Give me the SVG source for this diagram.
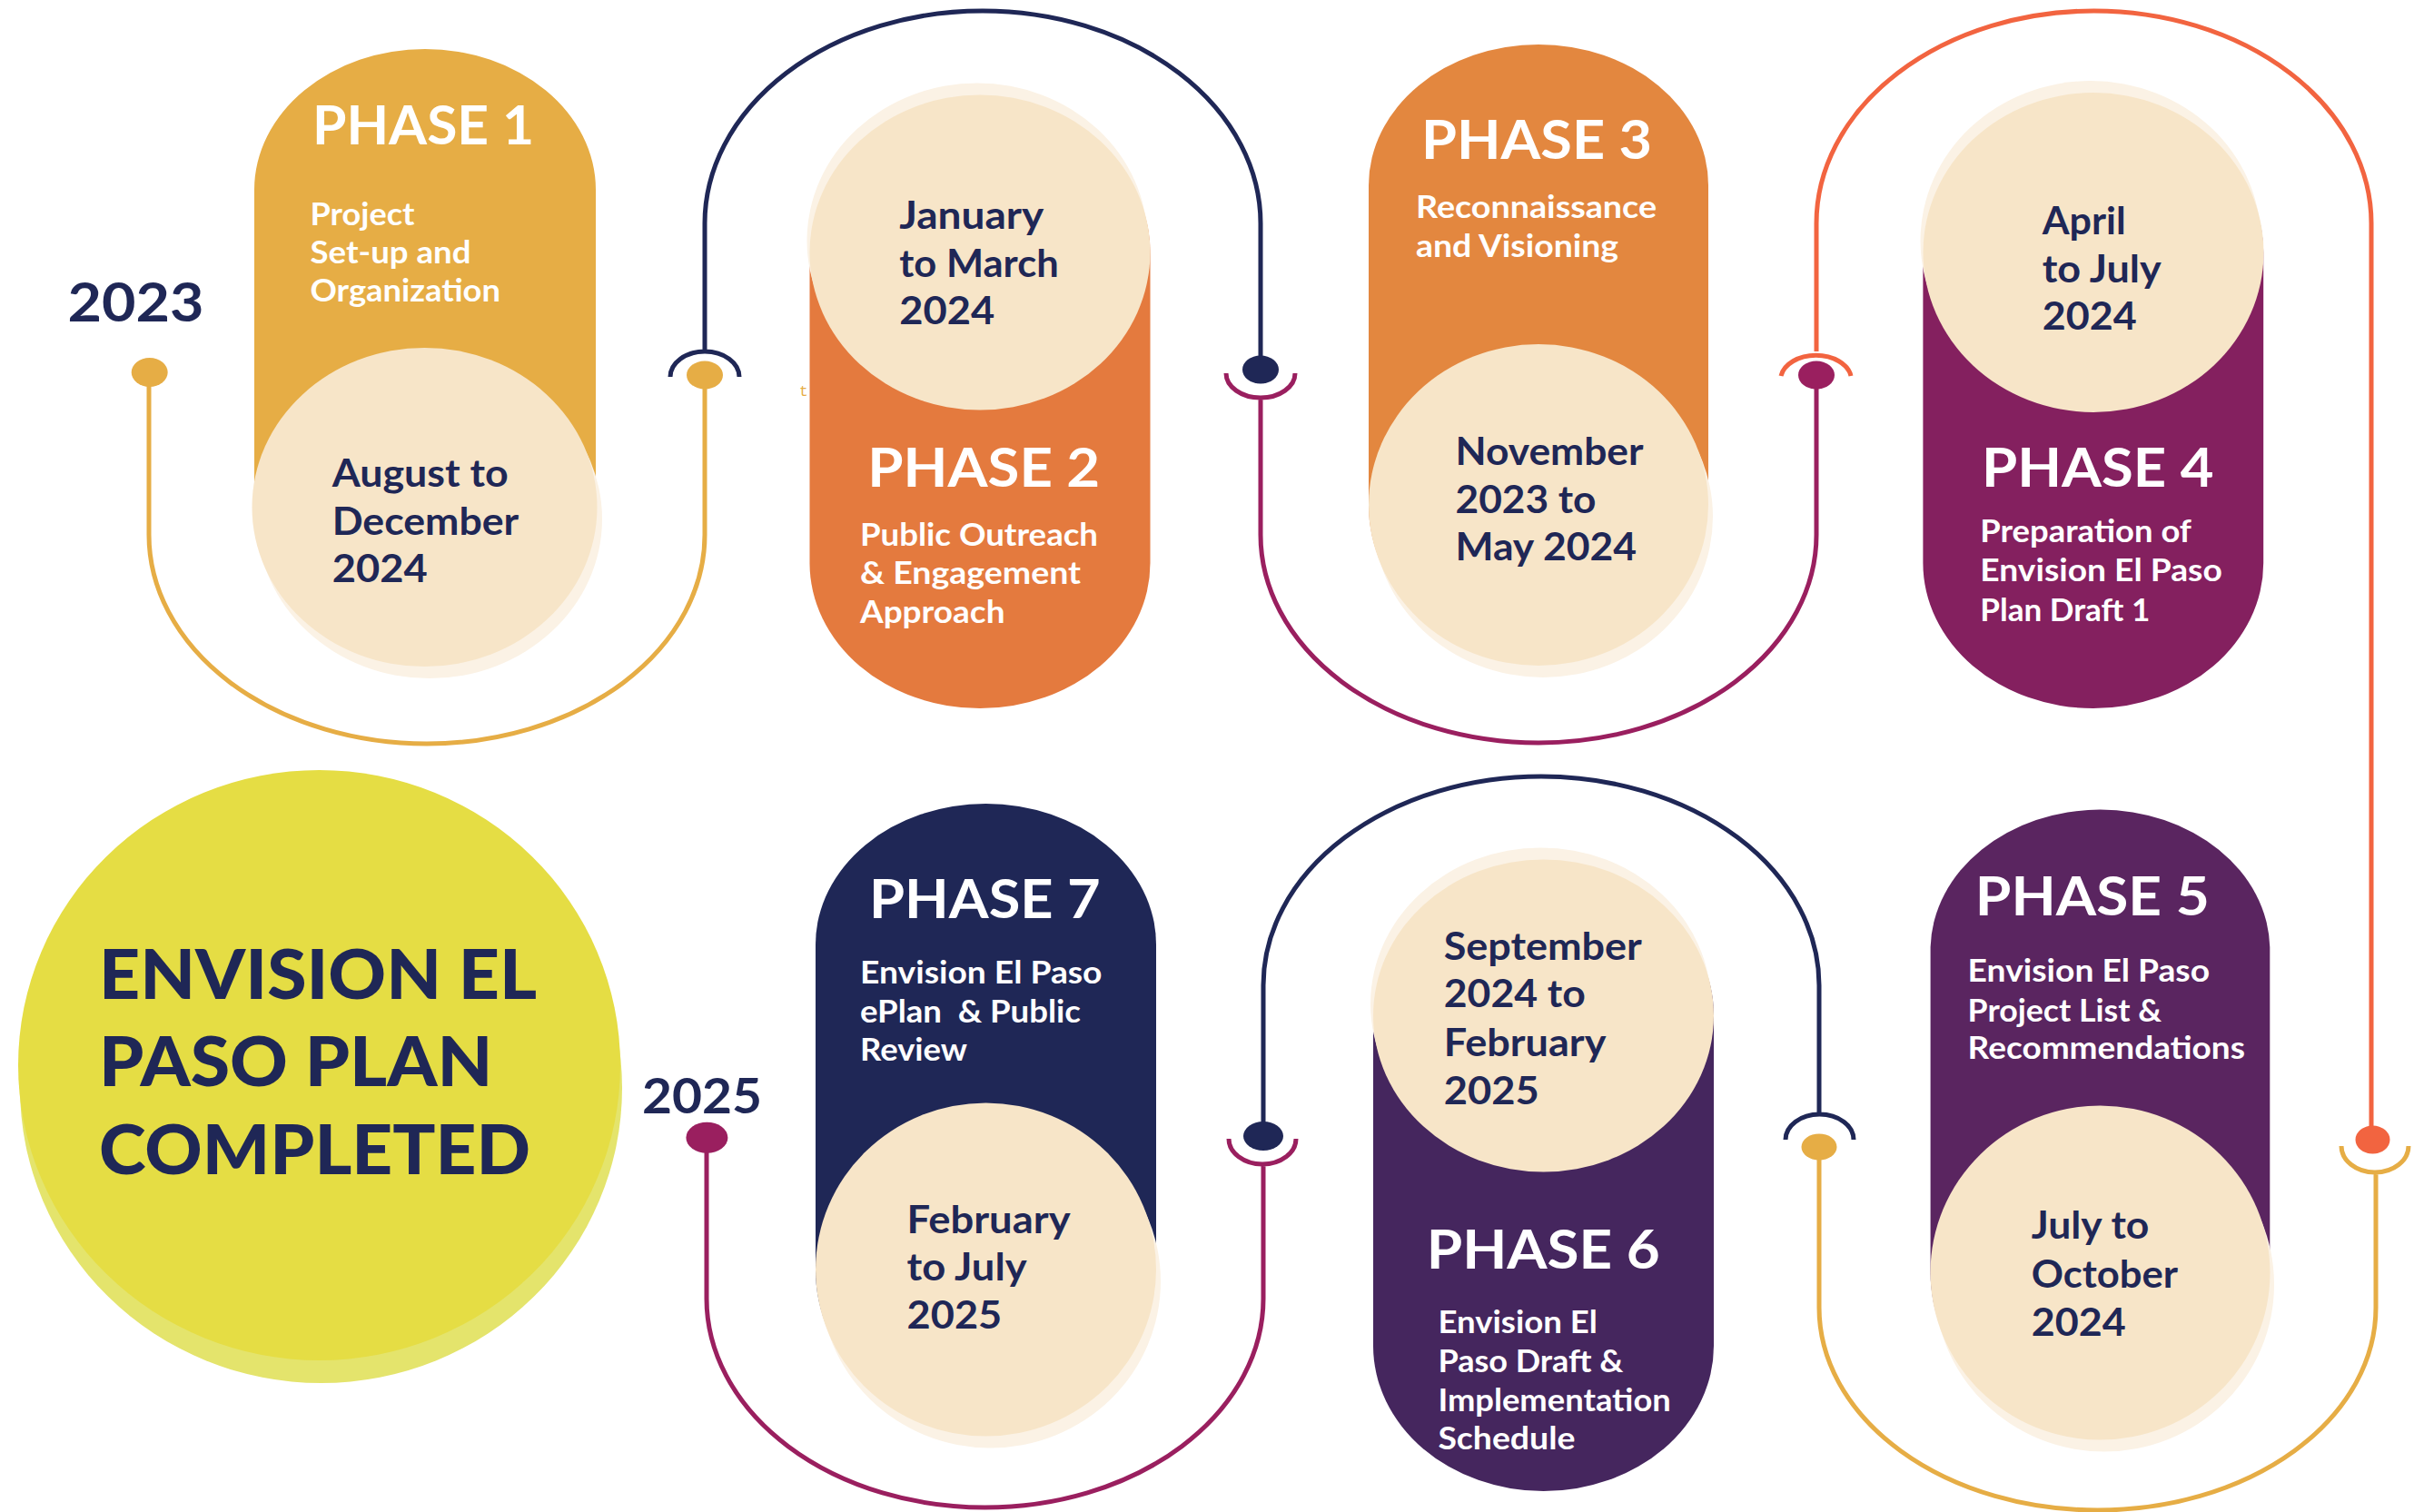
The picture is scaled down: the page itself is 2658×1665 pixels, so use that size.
<svg xmlns="http://www.w3.org/2000/svg" width="2658" height="1665" viewBox="0 0 2658 1665">
<style>
text{font-family:Lato,'Liberation Sans',sans-serif;font-weight:700}
.ph{font-size:60px;fill:#fff}
.ds{font-size:35px;fill:#fff}
.dt{font-size:42px;fill:#1F2756}
.yr{fill:#1F2756}
.big{font-size:77px;font-weight:900;fill:#1F2756}
.c{fill:none;stroke-width:5}
.date{fill:#F7E5C8}
.sh{fill:#FBF2E5}
</style>
<rect width="2658" height="1665" fill="#fff"/>
<g id="connectors">
  <!-- top row -->
  <path class="c" stroke="#E6AD45" d="M164 410 V589 A306 230 0 0 0 776 589 V413"/>
  <path class="c" stroke="#1F2756" d="M738 415 A38 28 0 0 1 814 415 M776 387 V246 A306 234 0 0 1 1388 246 V407"/>
  <path class="c" stroke="#9A1F5F" d="M1350 411 A38 27 0 0 0 1426 411 M1388 438 V589 A306 229 0 0 0 2000 589 V413"/>
  <path class="c" stroke="#F26440" d="M1961 414 A39 27 0 0 1 2038 414 M2000 387 V246 A305.5 234 0 0 1 2611 246 V1255"/>
  <!-- bottom row -->
  <path class="c" stroke="#E6AD45" d="M2578 1262 A37 29 0 0 0 2652 1262 M2616 1291 V1440 A306.5 223 0 0 1 2003 1440 V1263"/>
  <path class="c" stroke="#1F2756" d="M1966 1255 A37.5 28 0 0 1 2041 1255 M2003 1227 V1085 A306 230 0 0 0 1391 1085 V1251"/>
  <path class="c" stroke="#9A1F5F" d="M1353 1254 A37 28 0 0 0 1427 1254 M1391 1282 V1430 A306.5 230 0 0 1 778 1430 V1253"/>
  <ellipse cx="164.7" cy="410" rx="20" ry="16" fill="#E6AD45"/>
  <ellipse cx="776" cy="413" rx="20" ry="15.5" fill="#E6AD45"/>
  <ellipse cx="1388" cy="407" rx="20" ry="15.5" fill="#1F2756"/>
  <ellipse cx="2000" cy="413" rx="20" ry="15.5" fill="#9A1F5F"/>
  <ellipse cx="2612.5" cy="1255" rx="19" ry="15.5" fill="#F26440"/>
  <ellipse cx="2003" cy="1263" rx="19.5" ry="14.5" fill="#E6AD45"/>
  <ellipse cx="1391" cy="1251" rx="22" ry="16" fill="#1F2756"/>
  <ellipse cx="778.4" cy="1252.7" rx="23" ry="17" fill="#9A1F5F"/>
</g>
<g id="year2023"><text class="yr" x="74.6" y="353.5" font-size="60" textLength="150" lengthAdjust="spacingAndGlyphs">2023</text></g>
<g id="year2025"><text class="yr" x="707" y="1226" font-size="53" textLength="132" lengthAdjust="spacingAndGlyphs">2025</text></g>
<text x="880" y="436" font-size="16" fill="#E6AD45" style="font-family:'Liberation Mono',monospace;font-weight:400">t</text>

<g id="phase1">
  <path fill="#E6AD45" d="M280 209 A188 155 0 0 1 656 209 V558 A186 168 0 0 1 280 558 Z"/>
  <ellipse class="sh" cx="473" cy="571.5" rx="190" ry="175.5"/>
  <ellipse class="date" cx="467.5" cy="558.5" rx="190" ry="175.5"/>
  <text class="ph" x="344" y="159" textLength="244" lengthAdjust="spacingAndGlyphs">PHASE 1</text>
  <text class="ds" x="341.5" y="247.5" textLength="115" lengthAdjust="spacingAndGlyphs">Project</text>
  <text class="ds" x="341.5" y="290" textLength="177" lengthAdjust="spacingAndGlyphs">Set-up and</text>
  <text class="ds" x="341.5" y="332" textLength="209.5" lengthAdjust="spacingAndGlyphs">Organization</text>
  <text class="dt" x="365.7" y="535.6" textLength="194" lengthAdjust="spacingAndGlyphs">August to</text>
  <text class="dt" x="365.7" y="589" textLength="205.5" lengthAdjust="spacingAndGlyphs">December</text>
  <text class="dt" x="365.7" y="641" textLength="105" lengthAdjust="spacingAndGlyphs">2024</text>
</g>

<g id="phase2">
  <path fill="#E47A3E" d="M891.5 278 A187.5 165 0 0 1 1266.5 278 V620 A187.5 160 0 0 1 891.5 620 Z"/>
  <ellipse class="sh" cx="1076" cy="265" rx="187.5" ry="173.5"/>
  <ellipse class="date" cx="1079" cy="278" rx="187.5" ry="173.5"/>
  <text class="dt" x="990.3" y="251.7" textLength="159" lengthAdjust="spacingAndGlyphs">January</text>
  <text class="dt" x="990.3" y="305.3" textLength="175.4" lengthAdjust="spacingAndGlyphs">to March</text>
  <text class="dt" x="990.3" y="357.3" textLength="105" lengthAdjust="spacingAndGlyphs">2024</text>
  <text class="ph" x="955.2" y="535.6" textLength="256" lengthAdjust="spacingAndGlyphs">PHASE 2</text>
  <text class="ds" x="947" y="601" textLength="262" lengthAdjust="spacingAndGlyphs">Public Outreach</text>
  <text class="ds" x="947" y="642.7" textLength="243" lengthAdjust="spacingAndGlyphs">&amp; Engagement</text>
  <text class="ds" x="947" y="685.6" textLength="159.5" lengthAdjust="spacingAndGlyphs">Approach</text>
</g>

<g id="phase3">
  <path fill="#E3873F" d="M1507 204 A187 155 0 0 1 1881 204 V556 A185 170 0 0 1 1507 556 Z"/>
  <ellipse class="sh" cx="1699" cy="569" rx="187" ry="177"/>
  <ellipse class="date" cx="1694" cy="556" rx="187" ry="177"/>
  <text class="ph" x="1565" y="175" textLength="254" lengthAdjust="spacingAndGlyphs">PHASE 3</text>
  <text class="ds" x="1559" y="240" textLength="265" lengthAdjust="spacingAndGlyphs">Reconnaissance</text>
  <text class="ds" x="1559" y="282.8" textLength="223" lengthAdjust="spacingAndGlyphs">and Visioning</text>
  <text class="dt" x="1602.5" y="511.5" textLength="207" lengthAdjust="spacingAndGlyphs">November</text>
  <text class="dt" x="1602.5" y="565" textLength="155" lengthAdjust="spacingAndGlyphs">2023 to</text>
  <text class="dt" x="1602.5" y="617" textLength="199.6" lengthAdjust="spacingAndGlyphs">May 2024</text>
</g>

<g id="phase4">
  <path fill="#84205F" d="M2117.4 278 A187.4 165 0 0 1 2492.2 278 V620 A187.4 160 0 0 1 2117.4 620 Z"/>
  <ellipse class="sh" cx="2302" cy="265" rx="187.5" ry="176"/>
  <ellipse class="date" cx="2305" cy="278" rx="187.5" ry="176"/>
  <text class="dt" x="2248.7" y="258" textLength="92" lengthAdjust="spacingAndGlyphs">April</text>
  <text class="dt" x="2248.7" y="310.7" textLength="131" lengthAdjust="spacingAndGlyphs">to July</text>
  <text class="dt" x="2248.7" y="363" textLength="104" lengthAdjust="spacingAndGlyphs">2024</text>
  <text class="ph" x="2182" y="535.6" textLength="255.5" lengthAdjust="spacingAndGlyphs">PHASE 4</text>
  <text class="ds" x="2180.3" y="597" textLength="232.6" lengthAdjust="spacingAndGlyphs">Preparation of</text>
  <text class="ds" x="2180.3" y="640" textLength="266.5" lengthAdjust="spacingAndGlyphs">Envision El Paso</text>
  <text class="ds" x="2180.3" y="684" textLength="187" lengthAdjust="spacingAndGlyphs">Plan Draft 1</text>
</g>

<g id="phase5">
  <path fill="#5A2560" d="M2125.6 1043 A186.9 155 0 0 1 2499.3 1043 V1401 A185 175 0 0 1 2125.6 1401 Z"/>
  <ellipse class="sh" cx="2317" cy="1414.5" rx="187" ry="184"/>
  <ellipse class="date" cx="2312.5" cy="1401.5" rx="187" ry="184"/>
  <text class="ph" x="2174.8" y="1007.5" textLength="258" lengthAdjust="spacingAndGlyphs">PHASE 5</text>
  <text class="ds" x="2166.6" y="1081.4" textLength="266.5" lengthAdjust="spacingAndGlyphs">Envision El Paso</text>
  <text class="ds" x="2166.6" y="1124.5" textLength="213.4" lengthAdjust="spacingAndGlyphs">Project List &amp;</text>
  <text class="ds" x="2166.6" y="1166" textLength="305.3" lengthAdjust="spacingAndGlyphs">Recommendations</text>
  <text class="dt" x="2236.7" y="1364.3" textLength="129.7" lengthAdjust="spacingAndGlyphs">July to</text>
  <text class="dt" x="2236.7" y="1418.2" textLength="161.4" lengthAdjust="spacingAndGlyphs">October</text>
  <text class="dt" x="2236.7" y="1471" textLength="104" lengthAdjust="spacingAndGlyphs">2024</text>
</g>

<g id="phase6">
  <path fill="#45265E" d="M1512 1118.5 A187.5 165 0 0 1 1887 1118.5 V1482 A187.5 160 0 0 1 1512 1482 Z"/>
  <ellipse class="sh" cx="1696.5" cy="1105.5" rx="187.5" ry="172"/>
  <ellipse class="date" cx="1699.5" cy="1118.5" rx="187.5" ry="172"/>
  <text class="dt" x="1589.8" y="1057" textLength="218" lengthAdjust="spacingAndGlyphs">September</text>
  <text class="dt" x="1589.8" y="1109.4" textLength="156" lengthAdjust="spacingAndGlyphs">2024 to</text>
  <text class="dt" x="1589.8" y="1163" textLength="178.6" lengthAdjust="spacingAndGlyphs">February</text>
  <text class="dt" x="1589.8" y="1216" textLength="105" lengthAdjust="spacingAndGlyphs">2025</text>
  <text class="ph" x="1570.7" y="1396.6" textLength="257" lengthAdjust="spacingAndGlyphs">PHASE 6</text>
  <text class="ds" x="1583.4" y="1468.3" textLength="175.4" lengthAdjust="spacingAndGlyphs">Envision El</text>
  <text class="ds" x="1583.4" y="1510.9" textLength="204" lengthAdjust="spacingAndGlyphs">Paso Draft &amp;</text>
  <text class="ds" x="1583.4" y="1554" textLength="256.4" lengthAdjust="spacingAndGlyphs">Implementation</text>
  <text class="ds" x="1583.4" y="1596" textLength="151" lengthAdjust="spacingAndGlyphs">Schedule</text>
</g>

<g id="phase7">
  <path fill="#1F2756" d="M898 1040 A187.5 155 0 0 1 1273 1040 V1398 A185 175 0 0 1 898 1398 Z"/>
  <ellipse class="sh" cx="1090.5" cy="1411" rx="187.5" ry="183.5"/>
  <ellipse class="date" cx="1085.5" cy="1398" rx="187.5" ry="183.5"/>
  <text class="ph" x="957" y="1011.3" textLength="254.6" lengthAdjust="spacingAndGlyphs">PHASE 7</text>
  <text class="ds" x="947" y="1083" textLength="266.5" lengthAdjust="spacingAndGlyphs">Envision El Paso</text>
  <text class="ds" x="947" y="1126" textLength="243" lengthAdjust="spacingAndGlyphs" xml:space="preserve">ePlan  &amp; Public</text>
  <text class="ds" x="947" y="1167.6" textLength="118" lengthAdjust="spacingAndGlyphs">Review</text>
  <text class="dt" x="998.6" y="1357.8" textLength="180" lengthAdjust="spacingAndGlyphs">February</text>
  <text class="dt" x="998.6" y="1410" textLength="132" lengthAdjust="spacingAndGlyphs">to July</text>
  <text class="dt" x="998.6" y="1463" textLength="104.6" lengthAdjust="spacingAndGlyphs">2025</text>
</g>

<g id="completed">
  <ellipse cx="353.5" cy="1198" rx="331.5" ry="325" fill="#E4E46C"/>
  <ellipse cx="351.5" cy="1173" rx="331.5" ry="325" fill="#E5DD44"/>
  <text class="big" x="109" y="1100" textLength="482" lengthAdjust="spacingAndGlyphs">ENVISION EL</text>
  <text class="big" x="109" y="1196" textLength="433.4" lengthAdjust="spacingAndGlyphs">PASO PLAN</text>
  <text class="big" x="109" y="1292.6" textLength="475" lengthAdjust="spacingAndGlyphs">COMPLETED</text>
</g>
</svg>
